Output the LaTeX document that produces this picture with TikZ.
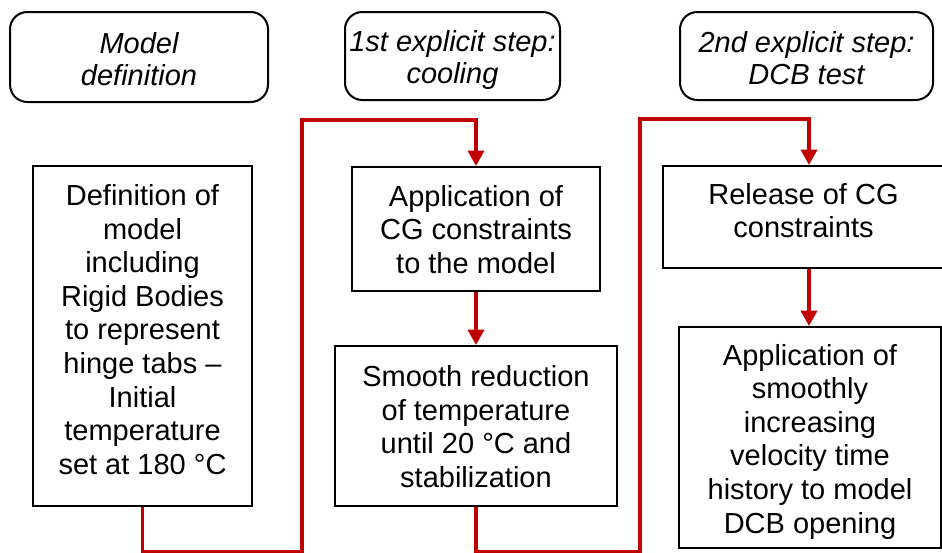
\documentclass[tikz,border=0pt]{standalone}
\usepackage{fontspec}
\setmainfont{Liberation Sans}
\usetikzlibrary{arrows.meta}
\definecolor{flowred}{HTML}{C00000}
\begin{document}
\begin{tikzpicture}[x=0.75pt,y=-0.75pt,
  txt/.style={font=\fontsize{21.75pt}{25.2pt}\selectfont, align=center, inner sep=0pt},
  htxt/.style={font=\fontsize{21.75pt}{24pt}\selectfont\itshape, align=center, inner sep=0pt},
  box/.style={draw=black, line width=1.5pt, rectangle, inner sep=0pt},
  hdr/.style={box, rounded corners=13pt},
  flow/.style={draw=flowred, line width=2.6pt},
  arr/.style={flow, -{Triangle[width=12pt,length=11.5pt]}}
]
\useasboundingbox (0,0) rectangle (942,553);

\node[hdr, minimum width=193.5pt, minimum height=67.5pt] (h1) at (139,57) {};
\node[htxt] (h1t) at (139,59) {Model\\definition};
\node[hdr, minimum width=161.25pt, minimum height=66pt] (h2) at (452.5,56) {};
\node[htxt] (h2t) at (452.5,60) {1st explicit step:\\cooling};
\node[hdr, minimum width=189.75pt, minimum height=66pt] (h3) at (806.5,56) {};
\node[htxt] (h3t) at (806.5,58) {2nd explicit step:\\DCB test};

\node[box, minimum width=164.25pt, minimum height=255pt] (def) at (142.5,336) {};
\node[txt] (deft) at (142.5,329.5) {Definition of\\model\\including\\Rigid Bodies\\to represent\\hinge tabs –\\Initial\\temperature\\set at 180 °C};
\node[box, minimum width=186pt, minimum height=93pt] (app) at (476,229) {};
\node[txt] (appt) at (476,229.5) {Application of\\CG constraints\\to the model};
\node[box, minimum width=211.5pt, minimum height=120pt] (smooth) at (476,426) {};
\node[txt] (smootht) at (476,426.5) {Smooth reduction\\of temperature\\until 20 °C and\\stabilization};
\node[box, minimum width=210.75pt, minimum height=76.5pt] (rel) at (803.5,217) {};
\node[txt] (relt) at (803.5,210.5) {Release of CG\\constraints};
\node[box, minimum width=196.5pt, minimum height=165.75pt] (vel) at (810,437.5) {};
\node[txt] (velt) at (810,441.5) {Application of\\smoothly\\increasing\\velocity time\\history to model\\DCB opening};

\coordinate (b1) at (302,552);
\coordinate (t1) at (302,120);
\coordinate (b3) at (640,552);
\coordinate (t3) at (640,119);
\coordinate (rx) at (809,0);

\draw[arr] (def.south) -- (def.south |- b1) -- (b1) -- (t1) -- (t1 -| app.north) -- (app.north);
\draw[arr] (app.south) -- (smooth.north);
\draw[arr] (smooth.south) -- (smooth.south |- b3) -- (b3) -- (t3) -- (t3 -| rx) -- (rx |- rel.north);
\draw[arr] (rx |- rel.south) -- (rx |- vel.north);
\end{tikzpicture}
\end{document}
